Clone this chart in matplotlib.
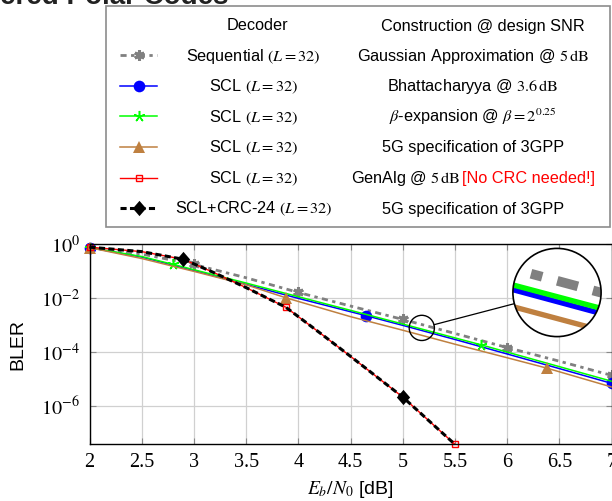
import numpy as np
import matplotlib
matplotlib.use("Agg")
import matplotlib.pyplot as plt
from matplotlib.lines import Line2D
from matplotlib.patches import Circle, Rectangle
from matplotlib.ticker import FixedLocator, FixedFormatter, NullLocator

plt.rcParams['mathtext.fontset'] = 'stix'
plt.rcParams['font.family'] = ['Liberation Sans', 'DejaVu Sans']

# ---------------- data ----------------
snr_seq = [2.0, 2.5, 3.0, 3.5, 4.0, 4.5, 5.0, 5.5, 6.0, 6.5, 7.0]
bler_seq = [7.6e-1, 4.4e-1, 1.8e-1, 5.8e-2, 1.66e-2, 5.2e-3, 1.66e-3, 5.0e-4, 1.5e-4, 4.7e-5, 1.4e-5]

snr_bhat = [2.0, 2.5, 3.0, 3.5, 4.0, 4.645, 5.0, 5.5, 6.0, 6.5, 7.0]
bler_bhat = [7.6e-1, 3.4e-1, 1.07e-1, 3.3e-2, 1.0e-2, 2.3e-3, 1.0e-3, 3.0e-4, 8.7e-5, 2.5e-5, 7.1e-6]

snr_beta = [2.0, 2.5, 2.8, 3.5, 4.0, 4.5, 5.0, 5.75, 6.5, 7.0]
bler_beta = [7.6e-1, 3.55e-1, 1.82e-1, 3.7e-2, 1.15e-2, 3.6e-3, 1.12e-3, 1.9e-4, 2.95e-5, 8.5e-6]

snr_5g = [2.0, 2.5, 3.0, 3.5, 3.88, 4.5, 5.0, 5.5, 6.0, 6.38, 7.0]
bler_5g = [7.6e-1, 3.0e-1, 1.0e-1, 3.2e-2, 1.05e-2, 2.1e-3, 6.6e-4, 2.0e-4, 6.3e-5, 2.6e-5, 5.2e-6]

snr_gen = [2.0, 2.5, 2.9, 3.2, 3.5, 3.88, 4.2, 4.5, 5.0, 5.5]
bler_gen = [7.9e-1, 5.4e-1, 2.8e-1, 8.7e-2, 2.5e-2, 4.7e-3, 5.5e-4, 7.1e-5, 2.2e-6, 3.9e-8]

snr_crc = [2.0, 2.5, 2.9, 3.2, 3.5, 3.88, 4.2, 4.5, 5.0, 5.5]
bler_crc = [7.9e-1, 5.4e-1, 2.8e-1, 8.7e-2, 2.5e-2, 4.7e-3, 5.5e-4, 7.1e-5, 2.2e-6, 3.9e-8]

decoders = ["Sequential $(L = 32)$", "SCL $(L = 32)$", "SCL $(L = 32)$",
            "SCL $(L = 32)$", "SCL $(L = 32)$", "SCL+CRC-24 $(L = 32)$"]
constructions = [r"Gaussian Approximation @ $5\,\mathrm{dB}$",
                 r"Bhattacharyya @ $3.6\,\mathrm{dB}$",
                 r"$\beta$-expansion @ $\beta = 2^{0.25}$",
                 "5G specification of 3GPP",
                 r"GenAlg @ $5\,\mathrm{dB}$",
                 "5G specification of 3GPP"]
note_text = "[No CRC needed!]"

xticks = [2, 2.5, 3, 3.5, 4, 4.5, 5, 5.5, 6, 6.5, 7]
xtick_labels = ["2", "2.5", "3", "3.5", "4", "4.5", "5", "5.5", "6", "6.5", "7"]
yticks = [1e0, 1e-2, 1e-4, 1e-6]
ytick_labels = [r"$10^{0}$", r"$10^{-2}$", r"$10^{-4}$", r"$10^{-6}$"]

spy_center = (5.183, 10 ** -3.095)   # zoomed spot (data coords)

# ---------------- styles ----------------
diamond = [(0, 1), (0.87, 0), (0, -1), (-0.87, 0), (0, 1)]
styles = [
    dict(color='#808080', lw=2.0, ls=(0, (2.2, 1.6, 1.2, 1.6)), marker=(6, 2, 0),
         ms=7.5, mew=2.2, mec='#808080', mfc='#808080'),
    dict(color='#0000ff', lw=1.1, ls='-', marker='o', ms=8.4, mew=0, mfc='#0000ff'),
    dict(color='#00ff00', lw=1.1, ls='-', marker=(5, 2, 0), ms=8, mew=1.1, mec='#00ff00'),
    dict(color='#bf8040', lw=1.1, ls='-', marker='^', ms=8.5, mew=0, mfc='#bf8040'),
    dict(color='#ff0000', lw=1.0, ls='-', marker='s', ms=4.8, mew=1.0, mfc='none', mec='#ff0000'),
    dict(color='black', lw=2.2, ls=(0, (2.0, 1.1)), marker=diamond, ms=11, mew=0, mfc='black'),
]
marks = [[0, 2, 4, 6, 8, 10], [0, 5, 10], [0, 2, 7], [0, 4, 9], [0, 5, 9], [2, 8]]
series = [(snr_seq, bler_seq), (snr_bhat, bler_bhat), (snr_beta, bler_beta),
          (snr_5g, bler_5g), (snr_gen, bler_gen), (snr_crc, bler_crc)]

W, H, DPI = 612, 501, 100
fig = plt.figure(figsize=(W / DPI, H / DPI), dpi=DPI)


def fx(x):
    return x / W


def fy(y):
    return 1 - y / H


ax = fig.add_axes([fx(89.5), fy(444.3), (611.5 - 89.5) / W, (444.3 - 244.4) / H])
ax.set_yscale('log')
for (xs, ys), st, mk in zip(series, styles, marks):
    ax.plot(xs, ys, markevery=mk, clip_on=False, **st)

ax.set_xlim(2, 7)
ax.set_ylim(min(bler_gen), 1.0)
ax.xaxis.set_major_locator(FixedLocator(xticks))
ax.xaxis.set_major_formatter(FixedFormatter(xtick_labels))
ax.yaxis.set_major_locator(FixedLocator(yticks))
ax.yaxis.set_major_formatter(FixedFormatter(ytick_labels))
ax.yaxis.set_minor_locator(NullLocator())
ax.grid(True, color='#d0d0d0', lw=0.9)
ax.set_axisbelow(True)
ax.tick_params(direction='in', length=4, color='#8a8a8a', top=True, right=True,
               labelsize=14.5)
ax.tick_params(axis='x', pad=6)
ax.tick_params(axis='y', pad=7)
for lab in ax.get_xticklabels() + ax.get_yticklabels():
    lab.set_fontfamily('Liberation Serif')
for sp in ax.spines.values():
    sp.set_linewidth(1.0)

ax.set_ylabel("BLER", fontsize=14)
ax.yaxis.set_label_coords((18 - 89.5) / 522.0, 0.5)
ax.yaxis.label.set_va('center')
ax.set_xlabel("$E_b/N_0$ [dB]", fontsize=14)
ax.xaxis.set_label_coords(0.5, (444.3 - 490) / 199.9)
ax.xaxis.label.set_va('center')

# ---------------- spy (zoom) ----------------
fig.canvas.draw()
cx, cy = ax.transData.transform(spy_center)     # display px (origin bottom-left)
r_small = 12.6
mag = 3.5
r_big = r_small * mag
bx, by = 557.0, H - 292.5
small = Circle((cx, cy), r_small, transform=None, fill=False, ec='black', lw=1.0, zorder=20)
fig.add_artist(small)

ax_in = fig.add_axes([(bx - r_big) / W, (by - r_big) / H, 2 * r_big / W, 2 * r_big / H])
ax_in.set_yscale('log')
for (xs, ys), st in zip(series, styles):
    st2 = {k: v for k, v in st.items() if k not in ('marker', 'ms', 'mew', 'mec', 'mfc')}
    st2['lw'] = st['lw'] * mag
    ln, = ax_in.plot(xs, ys, **st2)
    ln.set_clip_path(Circle((0.5, 0.5), 0.5, transform=ax_in.transAxes))
dx = r_small / (ax.get_window_extent().width / 5.0)
lc = np.log10(spy_center[1])
dy = r_small / (ax.get_window_extent().height / (0 - np.log10(min(bler_gen))))
ax_in.set_xlim(spy_center[0] - dx, spy_center[0] + dx)
ax_in.set_ylim(10 ** (lc - dy), 10 ** (lc + dy))
ax_in.axis('off')
ax_in.add_patch(Circle((0.5, 0.5), 0.5, transform=ax_in.transAxes, fc='white', ec='none',
                       zorder=0, clip_on=False))
ax_in.add_patch(Circle((0.5, 0.5), 0.5, transform=ax_in.transAxes, fill=False, ec='black',
                       lw=1.2, zorder=10, clip_on=False))
ux, uy = bx - cx, by - cy
nrm = np.hypot(ux, uy)
ux, uy = ux / nrm, uy / nrm
fig.add_artist(Line2D([cx + r_small * ux, bx - r_big * ux], [cy + r_small * uy, by - r_big * uy],
                      transform=None, color='black', lw=0.9, zorder=20))

# ---------------- title (cut off at top) ----------------
fig.text(fx(229), fy(3.5), "Considered Polar Codes", ha='right', va='baseline',
         fontsize=20, fontweight='bold', color='#222222')

# ---------------- legend (table) ----------------
fig.add_artist(Rectangle((fx(106), fy(227)), (610 - 106) / W, (227 - 6) / H,
                         transform=fig.transFigure, fill=True, fc='white',
                         ec='#8c8c8c', lw=1.2, zorder=30))
fs_leg = 11.7
col_dec, col_con = 253.5, 473.0
fig.text(fx(257), fy(30.5), "Decoder", ha='center', va='baseline', fontsize=fs_leg, zorder=31)
fig.text(fx(483), fy(30.5), "Construction @ design SNR", ha='center', va='baseline',
         fontsize=fs_leg, zorder=31)
renderer = fig.canvas.get_renderer()
for i in range(6):
    yb = 60.7 + 30.6 * i
    yh = yb - 5.5
    st = styles[i]
    ln = Line2D([fx(120), fx(138.5), fx(157)], [fy(yh)] * 3, transform=fig.transFigure,
                markevery=[1], zorder=31, **st)
    fig.add_artist(ln)
    fig.text(fx(col_dec), fy(yb), decoders[i], ha='center', va='baseline', fontsize=fs_leg, zorder=31)
    if i == 4:
        t1 = fig.text(0, fy(yb), constructions[i] + " ", ha='left', va='baseline',
                      fontsize=fs_leg, zorder=31)
        t2 = fig.text(0, fy(yb), note_text, ha='left', va='baseline', fontsize=fs_leg,
                      color='#ff0000', zorder=31)
        w1 = t1.get_window_extent(renderer).width
        w2 = t2.get_window_extent(renderer).width
        x0 = col_con - (w1 + w2) / 2
        t1.set_x(fx(x0))
        t2.set_x(fx(x0 + w1))
    else:
        fig.text(fx(col_con), fy(yb), constructions[i], ha='center', va='baseline',
                 fontsize=fs_leg, zorder=31)

fig.savefig("out.png", dpi=DPI)
